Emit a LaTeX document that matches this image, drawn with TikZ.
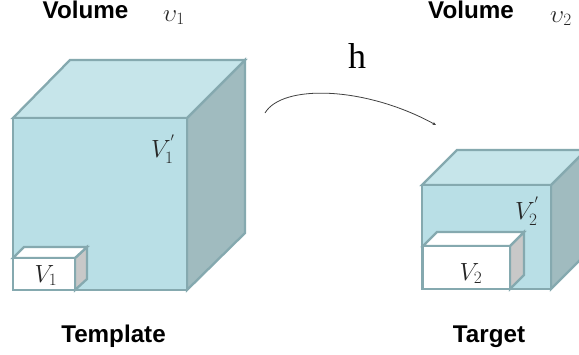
\documentclass[tikz,border=0pt]{standalone}
\usepackage{fontspec}
\setmainfont{Liberation Sans}
\newfontfamily\serifface{Liberation Serif}
\usetikzlibrary{arrows.meta}
\definecolor{frontc}{HTML}{B9DFE6}
\definecolor{topc}{HTML}{C6E5EA}
\definecolor{sidec}{HTML}{A0BBBF}
\definecolor{edgec}{HTML}{85A9AF}
\definecolor{greyc}{HTML}{C8C8C8}
\tikzset{
  facefront/.style={fill=frontc,draw=edgec,line width=2.3pt,line join=miter},
  facetop/.style={fill=topc,draw=edgec,line width=2.3pt,line join=miter},
  faceside/.style={fill=sidec,draw=edgec,line width=2.3pt,line join=miter},
  boxfront/.style={fill=white,draw=edgec,line width=2.3pt,line join=miter},
  boxside/.style={fill=greyc,draw=edgec,line width=2.3pt,line join=miter},
  caption/.style={font=\fontsize{24.2}{26}\selectfont\bfseries,inner sep=0pt,anchor=base},
  mathlabel/.style={font=\fontsize{23}{26}\selectfont,inner sep=0pt,anchor=base,text=black!85},
  smalllabel/.style={font=\fontsize{23}{26}\selectfont,inner sep=0pt,anchor=base,text=black!85},
  mapcurve/.style={draw=black!75,line width=0.8pt,-{Stealth[length=3.5pt,width=3pt]}}
}
\begin{document}
\begin{tikzpicture}[x=1pt,y=-1pt]
\useasboundingbox (0,0) rectangle (579,354);
\clip (0,0) rectangle (579,354);
\fill[white] (0,0) rectangle (579,354);
% Template cube
\draw[faceside] (187,118) -- (245,60) -- (245,233) -- (187,290) -- cycle;
\draw[facetop] (13,118) -- (70,60) -- (245,60) -- (187,118) -- cycle;
\draw[facefront] (13,118) rectangle (187,290);
\draw[boxside] (75,258) -- (87,247) -- (87,279) -- (75,290) -- cycle;
\draw[boxfront] (13,258) -- (24,247) -- (87,247) -- (75,258) -- cycle;
\draw[boxfront] (13,258) rectangle (75,290);
% Target cube
\draw[faceside] (551,185) -- (586,150) -- (586,254) -- (551,289) -- cycle;
\draw[facetop] (422,185) -- (457,150) -- (586,150) -- (551,185) -- cycle;
\draw[facefront] (422,185) rectangle (551,289);
\draw[boxside] (510,246) -- (524,232) -- (524,275) -- (510,289) -- cycle;
\draw[boxfront] (423,246) -- (437,232) -- (524,232) -- (510,246) -- cycle;
\draw[boxfront] (423,246) rectangle (510,289);
% Labels
\node[caption] (vola) at (85.5,18) {Volume};
\node[caption] (volb) at (471,18) {Volume};
\node[mathlabel] (ua) at (174,21) {$\upsilon_{1}$};
\node[mathlabel] (ub) at (561,22) {$\upsilon_{2}$};
\node[caption] (tmpl) at (113.5,342) {Template};
\node[caption] (targ) at (489,342) {Target};
\node[font=\serifface\fontsize{36}{38}\selectfont,inner sep=0pt,anchor=base] (h) at (357,68) {h};
\node[mathlabel] (va) at (163,157) {$V_{1}^{'}$};
\node[mathlabel] (vb) at (527,219) {$V_{2}^{'}$};
\node[smalllabel] (vc) at (46,282) {$V_{1}$};
\node[smalllabel] (vd) at (471,280) {$V_{2}$};
% Mapping
\coordinate (mapfrom) at (265,113);
\coordinate (mapto) at (436,125);
\draw[mapcurve] (mapfrom) .. controls (282,84) and (365,86) .. (mapto);
\end{tikzpicture}
\end{document}
